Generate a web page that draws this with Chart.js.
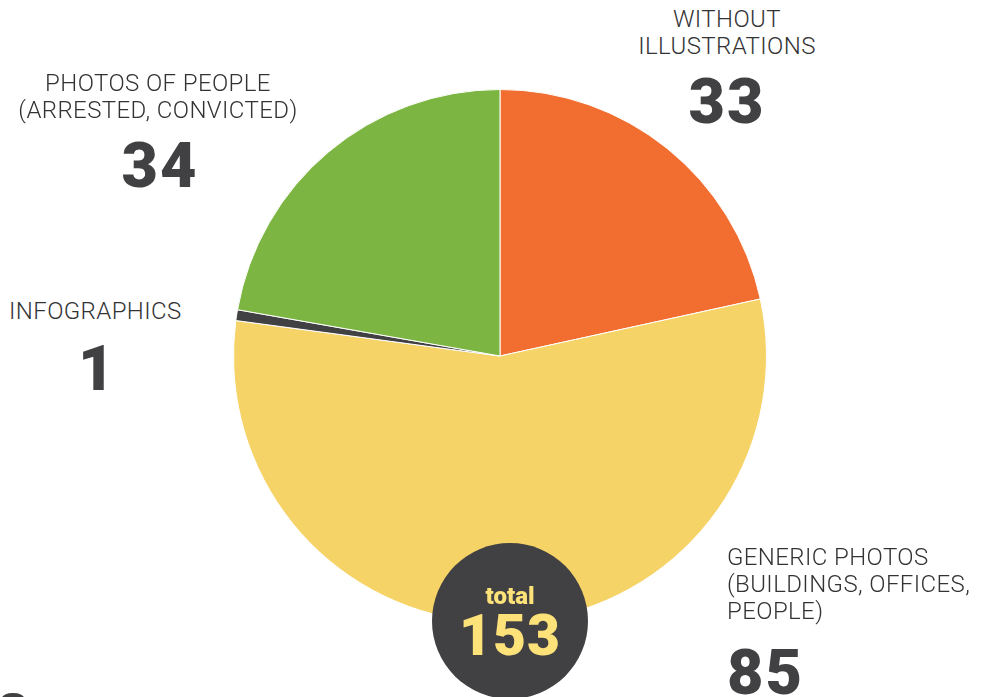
<!DOCTYPE html>
<html>
<head>
<meta charset="utf-8">
<script src="https://cdn.jsdelivr.net/npm/chart.js@4"></script>
<style>
  body { margin: 0; background: #fff; width: 988px; height: 697px; overflow: hidden; position: relative; font-family: "Roboto", "Open Sans", sans-serif; color: #414042; }
  .pie-box { position: absolute; left: 233px; top: 89px; width: 534px; height: 534px; }
  .lbl { position: absolute; font-size: 24px; line-height: 27px; font-weight: 300; letter-spacing: 0.4px; color: #333335; white-space: nowrap; }
  .num { position: absolute; font-size: 63px; line-height: 63px; font-weight: 900; letter-spacing: 2px; color: #414042; }
  .center { text-align: center; }
  .total { position: absolute; left: 432px; top: 543px; width: 156px; height: 156px; border-radius: 50%; background: #414042; color: #fde27a; text-align: center; }
  .total .t1 { position: absolute; left: 0; right: 0; top: 39px; font-size: 24px; font-weight: 900; }
  .total .t2 { position: absolute; left: 0; right: 0; top: 64px; font-size: 57px; line-height: 57px; font-weight: 900; letter-spacing: 1px; }
  .corner { position: absolute; left: 2px; top: 693px; width: 22px; height: 10px; border-radius: 50%; background: #414042; }
</style>
</head>
<body>
<div class="pie-box"><canvas id="pie"></canvas></div>

<div class="lbl center" style="left:627px; top:6px; width:200px;">WITHOUT<br>ILLUSTRATIONS</div>
<div class="num center" style="left:627px; top:70px; width:200px;">33</div>

<div class="lbl center" style="left:8px; top:70px; width:300px;">PHOTOS OF PEOPLE<br>(ARRESTED, CONVICTED)</div>
<div class="num center" style="left:60px; top:134px; width:200px;">34</div>

<div class="lbl" style="left:9px; top:298px;">INFOGRAPHICS</div>
<div class="num" style="left:78px; top:337px;">1</div>

<div class="lbl" style="left:727px; top:544px;">GENERIC PHOTOS<br>(BUILDINGS, OFFICES,<br>PEOPLE)</div>
<div class="num" style="left:727px; top:641px;">85</div>

<div class="total"><div class="t1">total</div><div class="t2" id="total"></div></div>
<div class="corner"></div>

<script>
// slices clockwise from 12 o'clock
const categories = ['Without illustrations', 'Generic photos', 'Infographics', 'Photos of people'];
const counts = [33, 85, 1, 34];
const sliceColors = ['#f26e30', '#f5d367', '#414042', '#7cb542'];

document.getElementById('total').textContent = counts.reduce((a, b) => a + b, 0);

new Chart(document.getElementById('pie'), {
	type: 'pie',
	data: {
		labels: categories,
		datasets: [{
			data: counts,
			backgroundColor: sliceColors,
			borderColor: '#ffffff',
			borderWidth: 1
		}]
	},
	options: {
		responsive: true,
		maintainAspectRatio: false,
		animation: false,
		layout: { padding: 0 },
		plugins: {
			legend: { display: false },
			tooltip: { enabled: false }
		}
	}
});
</script>
</body>
</html>
